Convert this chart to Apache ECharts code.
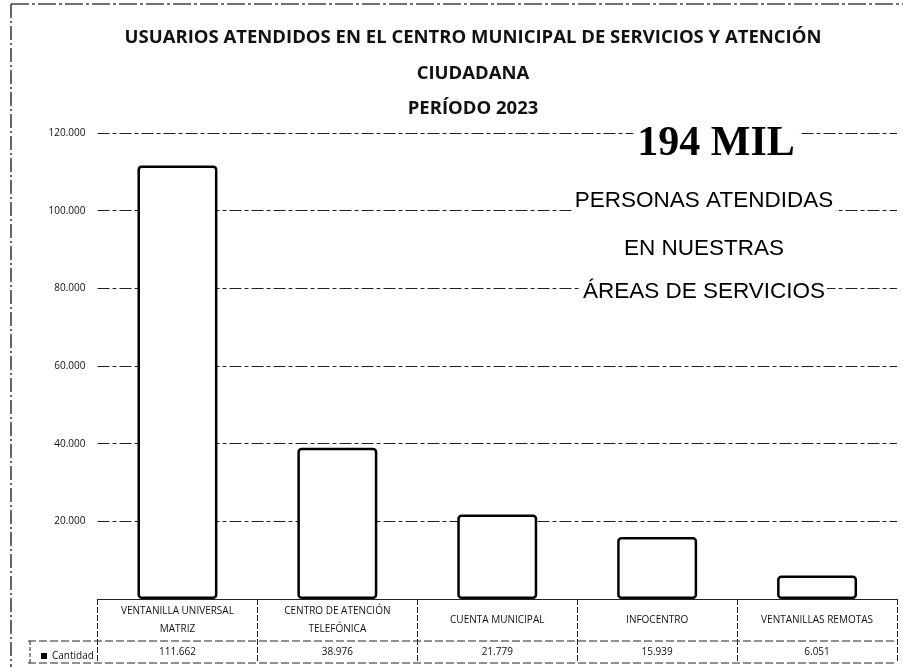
<!DOCTYPE html>
<html>
<head>
<meta charset="utf-8">
<script src="https://cdn.jsdelivr.net/npm/echarts@6/dist/echarts.min.js"></script>
<style>
  html, body { margin: 0; padding: 0; background: #fff; }
  #chart { width: 903px; height: 667px; }
</style>
</head>
<body>
<div id="chart"></div>
<script>
const categories = [
  'VENTANILLA UNIVERSAL\nMATRIZ',
  'CENTRO DE ATENCIÓN\nTELEFÓNICA',
  'CUENTA MUNICIPAL',
  'INFOCENTRO',
  'VENTANILLAS REMOTAS'
]
const cantidad = [111662, 38976, 21779, 15939, 6051]
const yTicks = [0, 20000, 40000, 60000, 80000, 100000, 120000]

const fmt = v => String(v).replace(/\B(?=(\d{3})+(?!\d))/g, '.')

const chart = echarts.init(document.getElementById('chart'))
const font = '"Liberation Sans Narrow", "Open Sans", sans-serif'
const gridDash = [12, 3, 4, 3]
const sideFont = '22.5px "Liberation Sans", Arial, sans-serif'

const option = {
  backgroundColor: '#fff',
  animation: false,
  title: {
    text: 'USUARIOS ATENDIDOS EN EL CENTRO MUNICIPAL DE SERVICIOS Y ATENCIÓN\nCIUDADANA\nPERÍODO 2023',
    left: 468,
    top: 15,
    textAlign: 'center',
    textStyle: {
      fontFamily: font,
      fontWeight: 'bold',
      fontSize: 18.5,
      lineHeight: 35.5,
      color: '#111'
    }
  },
  legend: {
    left: 36,
    top: 646,
    itemWidth: 6,
    itemHeight: 6,
    itemGap: 4,
    icon: 'rect',
    itemStyle: { color: '#000', borderWidth: 0 },
    textStyle: { fontFamily: font, fontSize: 10, color: '#111' },
    data: ['Cantidad']
  },
  grid: { left: 97.5, right: 6, top: 133, bottom: 68 },
  xAxis: [
    {
      type: 'category',
      data: categories,
      axisLine: { lineStyle: { color: '#222', width: 1.2 } },
      axisTick: { show: true, length: 64, lineStyle: { color: '#222', type: [6, 2] } },
      axisLabel: {
        interval: 0,
        margin: 21,
        verticalAlign: 'middle',
        lineHeight: 18,
        fontFamily: font,
        fontSize: 10,
        color: '#111'
      }
    },
    {
      type: 'category',
      position: 'bottom',
      offset: 44,
      data: categories,
      axisLine: { show: false },
      axisTick: { show: false },
      axisLabel: {
        interval: 0,
        margin: 4,
        fontFamily: font,
        fontSize: 10,
        color: '#111',
        formatter: (v, i) => fmt(cantidad[i])
      }
    }
  ],
  yAxis: {
    type: 'value',
    min: yTicks[0],
    max: yTicks[yTicks.length - 1],
    interval: yTicks[1] - yTicks[0],
    axisLine: { show: false },
    axisTick: { show: false },
    axisLabel: {
      margin: 12,
      showMinLabel: false,
      fontFamily: font,
      fontSize: 10,
      color: '#111',
      formatter: v => fmt(v)
    },
    splitLine: { lineStyle: { color: '#222', width: 1, type: gridDash } }
  },
  series: [
    {
      name: 'Cantidad',
      type: 'bar',
      data: cantidad,
      barWidth: '50%',
      itemStyle: {
        color: '#fff',
        borderColor: '#000',
        borderWidth: 2.5,
        borderRadius: 3
      }
    }
  ],
  graphic: [
    // scanned page frame
    { type: 'line', shape: { x1: 11, y1: 4, x2: 11, y2: 667 }, style: { stroke: '#333', lineWidth: 1.5, lineDash: [14, 3, 2, 3] } },
    { type: 'line', shape: { x1: 11, y1: 4, x2: 903, y2: 4 }, style: { stroke: '#444', lineWidth: 1.5, lineDash: [18, 3, 3, 3] } },
    // data table borders
    { type: 'line', shape: { x1: 28, y1: 641, x2: 897, y2: 641 }, style: { stroke: '#222', lineWidth: 1, lineDash: [8, 3] } },
    { type: 'line', shape: { x1: 28, y1: 663, x2: 897, y2: 663 }, style: { stroke: '#222', lineWidth: 1, lineDash: [8, 3] } },
    { type: 'line', shape: { x1: 30, y1: 641, x2: 30, y2: 663 }, style: { stroke: '#222', lineWidth: 1, lineDash: [4, 2] } },
    // highlight text, with white backing where it sits over grid lines
    {
      type: 'text', x: 716, y: 144, z: 100,
      style: {
        text: '194 MIL', align: 'center', verticalAlign: 'middle',
        font: 'bold 42px "Liberation Serif", "DejaVu Serif", serif', fill: '#000',
        backgroundColor: '#fff', padding: [0, 4]
      }
    },
    {
      type: 'text', x: 704, y: 201, z: 100,
      style: {
        text: 'PERSONAS ATENDIDAS', align: 'center', verticalAlign: 'middle',
        font: sideFont, fill: '#000', backgroundColor: '#fff', padding: [0, 2]
      }
    },
    {
      type: 'text', x: 704, y: 249, z: 100,
      style: {
        text: 'EN NUESTRAS', align: 'center', verticalAlign: 'middle',
        font: sideFont, fill: '#000'
      }
    },
    {
      type: 'text', x: 704, y: 292, z: 100,
      style: {
        text: 'ÁREAS DE SERVICIOS', align: 'center', verticalAlign: 'middle',
        font: sideFont, fill: '#000', backgroundColor: '#fff', padding: [0, 2]
      }
    }
  ]
}

chart.setOption(option)
</script>
</body>
</html>
